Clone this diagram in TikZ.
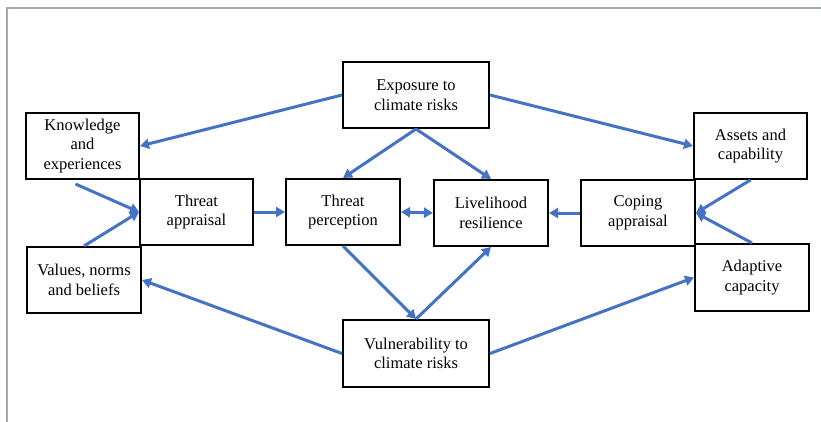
\documentclass[tikz,border=0pt]{standalone}
\usepackage{fontspec}
\setmainfont{Liberation Serif}
\usetikzlibrary{arrows.meta,calc}
\definecolor{arrblue}{HTML}{4472C4}
\definecolor{framegray}{HTML}{A3AAB2}
\begin{document}
\begin{tikzpicture}[x=1pt,y=-1pt,
  box/.style={draw=black,line width=2pt,fill=white,inner sep=0pt,align=center,
    font=\fontsize{16.5}{19.5}\selectfont},
  conn/.style={draw=arrblue,line width=3pt,-{Triangle[length=9pt,width=10pt]}},
  both/.style={draw=arrblue,line width=3pt,{Triangle[length=9pt,width=10pt]}-{Triangle[length=9pt,width=10pt]}}]
\useasboundingbox (0,0) rectangle (821,422);
\fill[white] (0,0) rectangle (821,422);
\draw[framegray,line width=1.5pt] (7,422) -- (7,8) -- (821,8);

\node[box,minimum width=146pt,minimum height=66pt] (expo) at (416,95) {Exposure to\\climate risks};
\node[box,minimum width=113pt,minimum height=66pt] (know) at (82.5,146) {Knowledge\\and\\experiences};
\node[box,minimum width=113pt,minimum height=66pt] (ta) at (196.5,212) {Threat\\appraisal};
\node[box,minimum width=114pt,minimum height=66pt] (tp) at (343,212) {Threat\\perception};
\node[box,minimum width=114pt,minimum height=66pt] (lr) at (491,213) {Livelihood\\resilience};
\node[box,minimum width=114pt,minimum height=66pt] (ca) at (638,213) {Coping\\appraisal};
\node[box,minimum width=113pt,minimum height=66pt] (assets) at (750.5,146) {Assets and\\capability};
\node[box,minimum width=114pt,minimum height=66pt] (val) at (84,280) {Values, norms\\and beliefs};
\node[box,minimum width=146pt,minimum height=67pt] (vul) at (416,353.5) {Vulnerability to\\climate risks};
\node[box,minimum width=114pt,minimum height=67pt] (adap) at (752,277.5) {Adaptive\\capacity};

\draw[conn] (expo.west) -- (know.east);
\draw[conn] (expo.south) -- (tp.north);
\draw[conn] (expo.south) -- (lr.north);
\draw[conn] (expo.east) -- (assets.west);
\draw[conn] ($(know.south)+(-7,4)$) -- (ta.west);
\draw[conn] (val.north) -- (ta.west);
\draw[conn] (ta.east) -- (tp.west);
\draw[both] (tp.east) -- (lr.west);
\draw[conn] (ca.west) -- (lr.east);
\draw[conn] (assets.south) -- (ca.east);
\draw[conn] (adap.north) -- (ca.east);
\draw[conn] (tp.south) -- (vul.north);
\draw[conn] (vul.north) -- (lr.south);
\draw[conn] (vul.west) -- (val.east);
\draw[conn] (vul.east) -- (adap.west);
\end{tikzpicture}
\end{document}
